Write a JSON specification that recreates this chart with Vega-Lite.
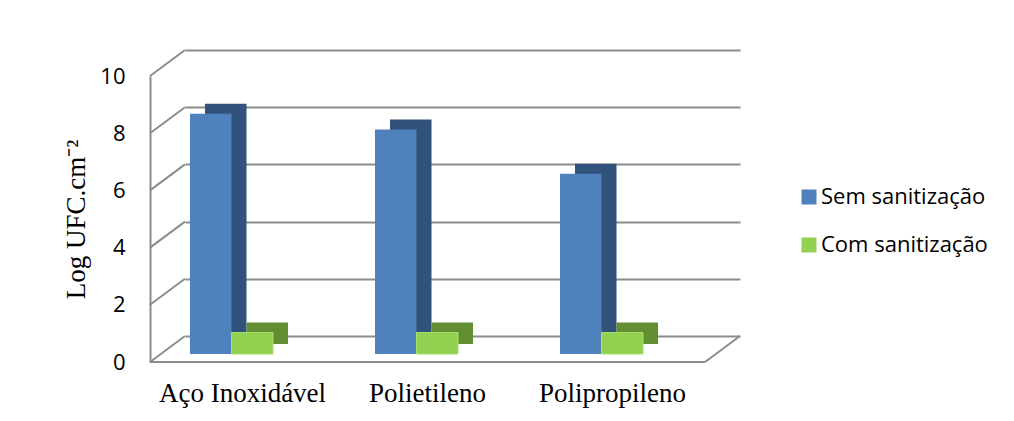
{
  "$schema": "https://vega.github.io/schema/vega-lite/v6.json",
  "autosize": {"type": "none"},
  "width": 555,
  "height": 286,
  "padding": {"left": 185, "top": 76, "right": 274, "bottom": 59},
  "background": "white",
  "config": {"view": {"stroke": null}},
  "datasets": {
    "valores": [
      {"material": "Aço Inoxidável", "tratamento": "Sem sanitização", "log": 8.4},
      {"material": "Aço Inoxidável", "tratamento": "Com sanitização", "log": 0.75},
      {"material": "Polietileno", "tratamento": "Sem sanitização", "log": 7.85},
      {"material": "Polietileno", "tratamento": "Com sanitização", "log": 0.75},
      {"material": "Polipropileno", "tratamento": "Sem sanitização", "log": 6.3},
      {"material": "Polipropileno", "tratamento": "Com sanitização", "log": 0.75}
    ],
    "grade": [{"v": 0}, {"v": 2}, {"v": 4}, {"v": 6}, {"v": 8}, {"v": 10}]
  },
  "data": {"name": "valores"},
  "layer": [
    {
      "data": {"name": "grade"},
      "mark": {"type": "rule", "color": "#8c8c8c", "strokeWidth": 2, "xOffset": -35, "y2Offset": -26},
      "encoding": {
        "x": {"datum": "Aço Inoxidável", "bandPosition": 0, "type": "nominal", "scale": {"domain": ["Aço Inoxidável", "Polietileno", "Polipropileno"], "paddingInner": 0, "paddingOuter": 0},
          "axis": {"title": null, "bandPosition": 0.5, "labelAngle": 0, "ticks": false, "domain": false, "labelOffset": -35, "labelPadding": 18, "labelFont": "Liberation Serif", "labelFontSize": 27, "labelColor": "black", "labelLimit": 0}},
        "x2": {"datum": "Aço Inoxidável", "bandPosition": 0},
        "y": {"field": "v", "type": "quantitative", "scale": {"domain": [0, 10], "nice": false},
          "axis": {"title": "Log UFC.cm⁻²", "values": [0, 2, 4, 6, 8, 10], "offset": 35, "ticks": false, "domain": true, "domainColor": "#8c8c8c", "domainWidth": 2, "grid": true, "gridColor": "#8c8c8c", "gridWidth": 2, "tickOffset": -26, "labelOffset": 26, "labelPadding": 25, "labelFont": "Open Sans", "labelFontSize": 22, "labelColor": "black", "titleFont": "Liberation Serif", "titleFontSize": 27, "titleFontWeight": "normal", "titleColor": "black", "titlePadding": 9}},
        "y2": {"field": "v"}
      }
    },
    {
      "data": {"values": [{}]},
      "mark": {"type": "rule", "color": "#8c8c8c", "strokeWidth": 2, "xOffset": -35, "x2Offset": -35},
      "encoding": {
        "x": {"datum": "Aço Inoxidável", "bandPosition": 0, "type": "nominal"},
        "x2": {"datum": "Polipropileno", "bandPosition": 1},
        "y": {"datum": 0, "type": "quantitative"}
      }
    },
    {
      "data": {"values": [{}]},
      "mark": {"type": "rule", "color": "#8c8c8c", "strokeWidth": 2, "xOffset": -35, "y2Offset": -26},
      "encoding": {
        "x": {"datum": "Polipropileno", "bandPosition": 1, "type": "nominal"},
        "x2": {"datum": "Polipropileno", "bandPosition": 1},
        "y": {"datum": 0, "type": "quantitative"},
        "y2": {"datum": 0}
      }
    },
    {
      "transform": [{"filter": "datum.tratamento === 'Sem sanitização'"}],
      "mark": {"type": "bar", "color": "#30527b", "xOffset": 15, "x2Offset": 15, "yOffset": -18, "y2Offset": -18},
      "encoding": {
        "x": {"field": "material", "type": "nominal", "bandPosition": 0.027, "sort": null},
        "x2": {"field": "material", "bandPosition": 0.2514},
        "y": {"field": "log", "type": "quantitative"},
        "y2": {"datum": 0}
      }
    },
    {
      "transform": [{"filter": "datum.tratamento === 'Com sanitização'"}],
      "mark": {"type": "bar", "color": "#628d31", "xOffset": 15, "x2Offset": 15, "yOffset": -18, "y2Offset": -18},
      "encoding": {
        "x": {"field": "material", "type": "nominal", "bandPosition": 0.2514, "sort": null},
        "x2": {"field": "material", "bandPosition": 0.4757},
        "y": {"field": "log", "type": "quantitative"},
        "y2": {"datum": 0}
      }
    },
    {
      "transform": [{"filter": "datum.tratamento === 'Sem sanitização'"}],
      "mark": {"type": "bar", "yOffset": -8, "y2Offset": -8},
      "encoding": {
        "x": {"field": "material", "type": "nominal", "bandPosition": 0.027, "sort": null},
        "x2": {"field": "material", "bandPosition": 0.2514},
        "y": {"field": "log", "type": "quantitative"},
        "y2": {"datum": 0},
        "color": {"field": "tratamento", "type": "nominal",
          "scale": {"domain": ["Sem sanitização", "Com sanitização"], "range": ["#4f81bd", "#92d050"]},
          "legend": {"title": null, "orient": "none", "legendX": 613, "legendY": 110, "symbolType": "square", "symbolSize": 225, "symbolStrokeWidth": 0, "labelFont": "Open Sans", "labelFontSize": 22, "labelColor": "black", "labelOffset": 1, "labelLimit": 0, "rowPadding": 26, "padding": 0}}
      }
    },
    {
      "transform": [{"filter": "datum.tratamento === 'Com sanitização'"}],
      "mark": {"type": "bar", "yOffset": -8, "y2Offset": -8, "stroke": "#a8e070", "strokeWidth": 1},
      "encoding": {
        "x": {"field": "material", "type": "nominal", "bandPosition": 0.2514, "sort": null},
        "x2": {"field": "material", "bandPosition": 0.4757},
        "y": {"field": "log", "type": "quantitative"},
        "y2": {"datum": 0},
        "color": {"field": "tratamento", "type": "nominal"}
      }
    }
  ]
}
